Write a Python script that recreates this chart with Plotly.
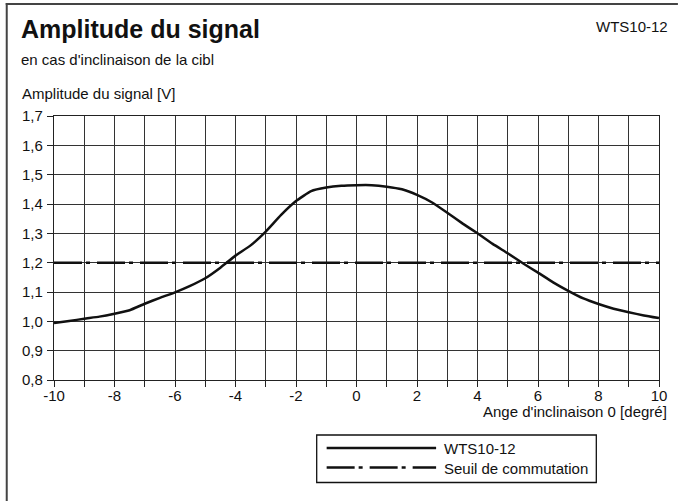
import plotly.graph_objects as go

# ---- data ----
angle = [-10, -9.5, -9, -8.5, -8, -7.5, -7, -6.5, -6, -5.5, -5, -4.5, -4, -3.5, -3, -2.5, -2, -1.5, -1, -0.5,
         0, 0.5, 1, 1.5, 2, 2.5, 3, 3.5, 4, 4.5, 5, 5.5, 6, 6.5, 7, 7.5, 8, 8.5, 9, 9.5, 10]
amplitude = [0.994, 1.001, 1.009, 1.016, 1.026, 1.038, 1.060, 1.080, 1.099, 1.121, 1.147, 1.183, 1.224, 1.259,
             1.306, 1.362, 1.410, 1.444, 1.456, 1.462, 1.464, 1.464, 1.459, 1.450, 1.431, 1.405, 1.370, 1.334,
             1.300, 1.264, 1.232, 1.198, 1.166, 1.133, 1.104, 1.078, 1.059, 1.043, 1.031, 1.020, 1.011]
threshold_x = [-10, 10]
threshold_y = [1.2, 1.2]

x_tickvals = list(range(-10, 11))
x_ticktext = ["-10", "", "-8", "", "-6", "", "-4", "", "-2", "", "0", "", "2", "", "4", "", "6", "", "8", "", "10"]
y_tickvals = [0.8, 0.9, 1.0, 1.1, 1.2, 1.3, 1.4, 1.5, 1.6, 1.7]
y_ticktext = ["0,8", "0,9", "1,0", "1,1", "1,2", "1,3", "1,4", "1,5", "1,6", "1,7"]

series_names = ["WTS10-12", "Seuil de commutation"]
title_text = "Amplitude du signal"
subtitle_text = "en cas d'inclinaison de la cibl"
y_title = "Amplitude du signal [V]"
x_title = "Ange d'inclinaison 0 [degré]"
corner_text = "WTS10-12"

# ---- layout geometry ----
W, H = 679, 501
ML, MR, MT, MB = 54, 17, 116, 121
PW, PH = W - ML - MR, H - MT - MB
FONT = "Liberation Sans, Arial, Helvetica, sans-serif"
DASH = "28px,4px,4px,7px"


def px(x):
    return (x - ML) / PW


def py(y):
    return (H - MB - y) / PH


fig = go.Figure()
fig.add_trace(go.Scatter(x=angle, y=amplitude, mode="lines", name=series_names[0],
                         line=dict(color="#111111", width=2.5, shape="spline", smoothing=0.4),
                         showlegend=False))
fig.add_trace(go.Scatter(x=threshold_x, y=threshold_y, mode="lines", name=series_names[1],
                         line=dict(color="#111111", width=2.5, dash=DASH),
                         showlegend=False))

ann = []


def text(t, x, y, size, xanchor="left", bold=False):
    ann.append(dict(text=("<b>%s</b>" % t) if bold else t, x=px(x), y=py(y), xref="paper", yref="paper",
                    xanchor=xanchor, yanchor="middle", showarrow=False,
                    font=dict(family=FONT, size=size, color="#111111")))


text(title_text, 19, 29, 25, bold=True)
text(subtitle_text, 19, 60, 15)
text(y_title, 20, 93.5, 15)
text(corner_text, 673, 26, 15, xanchor="right")
text(x_title, 672, 411.5, 15, xanchor="right")
text(series_names[0], 444, 448.5, 15)
text(series_names[1], 444, 468, 15)

shapes = [
    # outer frame (left and top)
    dict(type="line", xref="paper", yref="paper", x0=px(6.5), x1=px(6.5), y0=py(3), y1=py(H + 2),
         line=dict(color="#444444", width=2)),
    dict(type="line", xref="paper", yref="paper", x0=px(5.5), x1=px(W + 2), y0=py(4), y1=py(4),
         line=dict(color="#444444", width=2)),
    # legend box
    dict(type="rect", xref="paper", yref="paper", x0=px(318), x1=px(599), y0=py(435), y1=py(482.5),
         line=dict(color="#111111", width=1.3), fillcolor="white"),
    dict(type="line", xref="paper", yref="paper", x0=px(328), x1=px(438), y0=py(448), y1=py(448),
         line=dict(color="#111111", width=2.5)),
    dict(type="line", xref="paper", yref="paper", x0=px(328), x1=px(438), y0=py(467.5), y1=py(467.5),
         line=dict(color="#111111", width=2.5, dash=DASH)),
]

axis_common = dict(showgrid=True, gridcolor="#333333", gridwidth=1.3, zeroline=False,
                   showline=True, linecolor="#222222", linewidth=1.3, mirror=True,
                   ticks="outside", ticklen=6, tickwidth=1.2, tickcolor="#222222",
                   tickfont=dict(family=FONT, size=15, color="#111111"), tickmode="array")

fig.update_layout(
    width=W, height=H,
    margin=dict(l=ML, r=MR, t=MT, b=MB, pad=0),
    paper_bgcolor="white", plot_bgcolor="white",
    showlegend=False,
    xaxis=dict(range=[-10, 10], tickvals=x_tickvals, ticktext=x_ticktext, ticklabelstandoff=-4, **axis_common),
    yaxis=dict(range=[0.8, 1.7], tickvals=y_tickvals, ticktext=y_ticktext, ticklabelstandoff=1, **axis_common),
    annotations=ann,
    shapes=shapes,
)

fig.write_html("out.html", config={"displayModeBar": False},
               post_script="document.body.style.margin='0';document.body.style.overflow='hidden';")
